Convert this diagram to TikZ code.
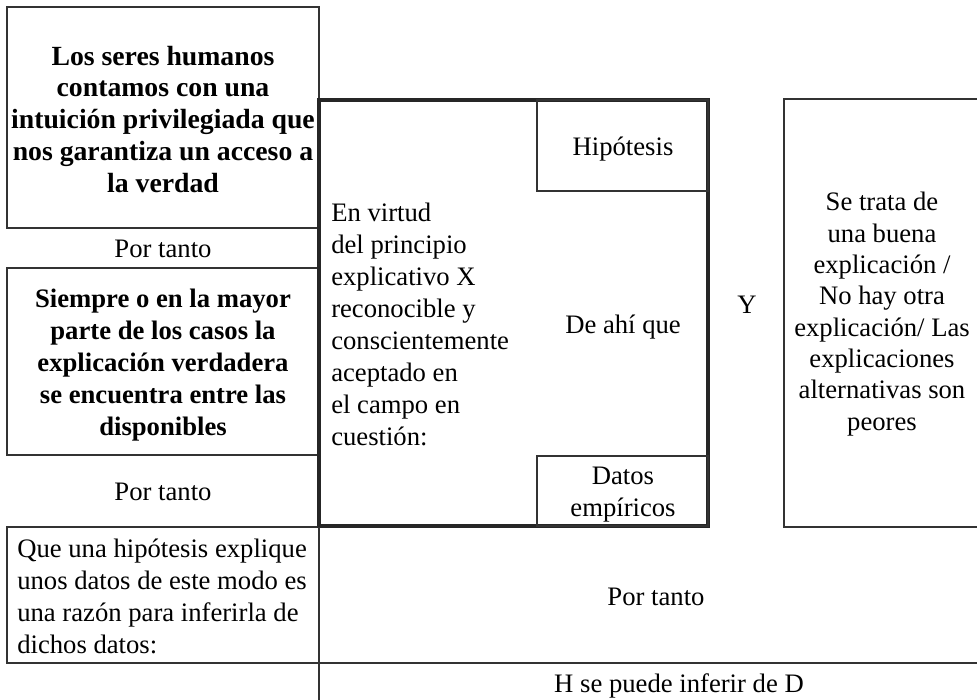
\documentclass[tikz,border=0pt]{standalone}
\usepackage{fontspec}
\setmainfont{Liberation Serif}
\usetikzlibrary{positioning}

\begin{document}
\begin{tikzpicture}[x=0.75pt, y=-0.75pt,
  thinrule/.style={draw=black!80, line width=0.8pt},
  thickrule/.style={draw=black!85, line width=2.4pt},
  celltext/.style={font=\fontsize{20}{24}\selectfont, inner sep=0pt, anchor=base},
  boldtext/.style={celltext, font=\fontsize{20}{24}\selectfont\bfseries, align=center}]

\useasboundingbox (0,0) rectangle (977,699);
\clip (0,0) rectangle (977,699);

% left column (multi-line nodes sit on their last baseline)
\draw[thinrule] (7,7) rectangle (319,228);
\draw[thinrule] (7,268) rectangle (318,455);
\draw[thinrule] (7,527) rectangle (319,663);
\node[boldtext, font=\fontsize{20.8}{23.8}\selectfont\bfseries] (intuicion) at (163,192) {Los seres humanos\\ contamos con una\\ intuición privilegiada que\\ nos garantiza un acceso a\\ la verdad};
\node[celltext] (portanto1) at (163,257) {Por tanto};
\node[boldtext] (siempre) at (163,435) {Siempre o en la mayor\\ parte de los casos la\\ explicación verdadera\\ se encuentra entre las\\ disponibles};
\node[celltext] (portanto2) at (163,500) {Por tanto};
\node[celltext, align=left, anchor=base west] (razon) at (17,653) {Que una hipótesis explique\\ unos datos de este modo es\\ una razón para inferirla de\\ dichos datos:};

% central frame
\draw[thickrule] (319,100) rectangle (708,526);
\draw[thinrule] (537,100) rectangle (708,191);
\draw[thinrule] (537,456) rectangle (708,526);
\node[celltext, align=left, anchor=base west] (virtud) at (331,445) {En virtud\\ del principio\\ explicativo X\\ reconocible y\\ conscientemente\\ aceptado en\\ el campo en\\ cuestión:};
\node[celltext] (hipotesis) at (623,155) {Hipótesis};
\node[celltext] (deahi) at (623,333) {De ahí que};
\node[celltext, align=center] (datos) at (623,516) {Datos\\ empíricos};

% right column
\node[celltext] (y) at (747,313) {Y};
\draw[thinrule] (990,99) -- (784,99) -- (784,527) -- (990,527);
\node[celltext, align=center, font=\fontsize{20}{23.5}\selectfont] (buena) at (882,430) {Se trata de\\ una buena\\ explicación /\\ No hay otra\\ explicación/ Las\\ explicaciones\\ alternativas son\\ peores};

% bottom rows
\draw[thinrule] (319,527) -- (319,710);
\draw[thinrule] (319,663) -- (990,663);
\node[celltext] (portanto3) at (656,605) {Por tanto};
\node[celltext] (inferir) at (679,692) {H se puede inferir de D};
\end{tikzpicture}
\end{document}
